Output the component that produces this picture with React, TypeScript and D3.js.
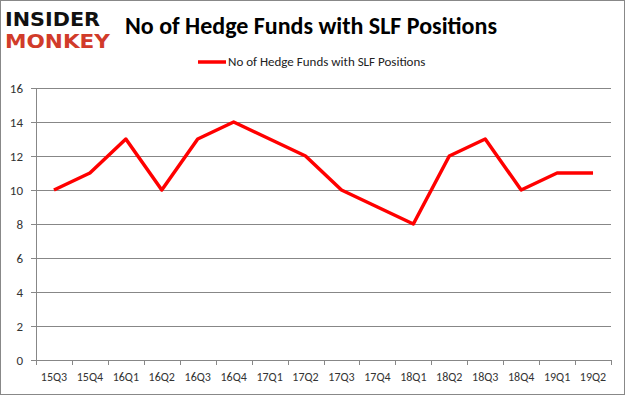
import { useEffect, useRef } from "react"
import * as d3 from "d3"

const quarters = [
  "15Q3", "15Q4", "16Q1", "16Q2", "16Q3", "16Q4", "17Q1", "17Q2",
  "17Q3", "17Q4", "18Q1", "18Q2", "18Q3", "18Q4", "19Q1", "19Q2",
]
const hedgeFundCounts = [10, 11, 13, 10, 13, 14, 13, 12, 10, 9, 8, 12, 13, 10, 11, 11]
const yTicks = [0, 2, 4, 6, 8, 10, 12, 14, 16]

const seriesName = "No of Hedge Funds with SLF Positions"
const chartTitle = "No of Hedge Funds with SLF Positions"

export default function App() {
  const svgRef = useRef<SVGSVGElement>(null)

  useEffect(() => {
    if (!svgRef.current) return
    const svg = d3.select(svgRef.current)
    svg.selectAll("*").remove()

    const width = 625
    const height = 395
    const margin = { top: 88, right: 14, bottom: 35, left: 36 }
    const innerWidth = width - margin.left - margin.right
    const innerHeight = height - margin.top - margin.bottom
    const font = "Calibri, Carlito, 'Open Sans', 'Noto Sans', sans-serif"

    // background + border
    svg.append("rect")
      .attr("x", 0.5).attr("y", 0.5)
      .attr("width", width - 1).attr("height", height - 1)
      .attr("fill", "#fff")
      .attr("stroke", "#888")

    const x = d3.scaleBand().domain(quarters).range([0, innerWidth])
    const y = d3.scaleLinear().domain([0, 16]).range([innerHeight, 0])

    const g = svg.append("g").attr("transform", `translate(${margin.left},${margin.top})`)

    // gridlines
    g.selectAll("line.grid")
      .data(yTicks)
      .join("line")
      .attr("class", "grid")
      .attr("x1", 0)
      .attr("x2", innerWidth)
      .attr("y1", (d) => Math.round(y(d)) + 0.5)
      .attr("y2", (d) => Math.round(y(d)) + 0.5)
      .attr("stroke", "#878787")
      .attr("stroke-width", 1)

    // y axis
    g.append("line")
      .attr("x1", 0.5).attr("x2", 0.5)
      .attr("y1", 0).attr("y2", innerHeight)
      .attr("stroke", "#878787")
    g.selectAll("line.ytick")
      .data(yTicks)
      .join("line")
      .attr("class", "ytick")
      .attr("x1", -5).attr("x2", 0)
      .attr("y1", (d) => Math.round(y(d)) + 0.5)
      .attr("y2", (d) => Math.round(y(d)) + 0.5)
      .attr("stroke", "#878787")
    g.selectAll("text.ylab")
      .data(yTicks)
      .join("text")
      .attr("class", "ylab")
      .attr("x", -13)
      .attr("y", (d) => y(d))
      .attr("dy", "0.35em")
      .attr("text-anchor", "end")
      .attr("font-family", font)
      .attr("font-size", 13)
      .attr("fill", "#333")
      .text((d) => d)

    // x axis ticks
    const edges = quarters.map((q) => x(q) as number).concat([innerWidth])
    g.selectAll("line.xtick")
      .data(edges)
      .join("line")
      .attr("class", "xtick")
      .attr("x1", (d) => Math.round(d) + 0.5)
      .attr("x2", (d) => Math.round(d) + 0.5)
      .attr("y1", innerHeight)
      .attr("y2", innerHeight + 5)
      .attr("stroke", "#878787")
    g.selectAll("text.xlab")
      .data(quarters)
      .join("text")
      .attr("class", "xlab")
      .attr("x", (d) => (x(d) as number) + x.bandwidth() / 2)
      .attr("y", innerHeight + 21)
      .attr("text-anchor", "middle")
      .attr("font-family", font)
      .attr("font-size", 12)
      .attr("fill", "#333")
      .text((d) => d)

    // line
    const line = d3.line<number>()
      .x((_, i) => (x(quarters[i]) as number) + x.bandwidth() / 2)
      .y((d) => y(d))
    g.append("path")
      .datum(hedgeFundCounts)
      .attr("fill", "none")
      .attr("stroke", "#ff0000")
      .attr("stroke-width", 3.5)
      .attr("stroke-linejoin", "round")
      .attr("d", line)

    // title
    svg.append("text")
      .attr("x", 311)
      .attr("y", 34)
      .attr("text-anchor", "middle")
      .attr("font-family", font)
      .attr("font-weight", "bold")
      .attr("font-size", 24)
      .attr("fill", "#000")
      .text(chartTitle)

    // legend
    svg.append("line")
      .attr("x1", 198).attr("x2", 226)
      .attr("y1", 62).attr("y2", 62)
      .attr("stroke", "#ff0000")
      .attr("stroke-width", 3.5)
    svg.append("text")
      .attr("x", 228)
      .attr("y", 66)
      .attr("font-family", font)
      .attr("font-size", 13)
      .attr("fill", "#222")
      .text(seriesName)

    // logo
    svg.append("text")
      .attr("x", 5)
      .attr("y", 26)
      .attr("font-family", "'DejaVu Sans', sans-serif")
      .attr("font-weight", "bold")
      .attr("font-size", 19)
      .attr("textLength", 95)
      .attr("lengthAdjust", "spacingAndGlyphs")
      .attr("fill", "#111")
      .text("INSIDER")
    svg.append("text")
      .attr("x", 5)
      .attr("y", 48)
      .attr("font-family", "'DejaVu Sans', sans-serif")
      .attr("font-weight", "bold")
      .attr("font-size", 19)
      .attr("textLength", 105)
      .attr("lengthAdjust", "spacingAndGlyphs")
      .attr("fill", "#d13b2a")
      .text("MONKEY")
  }, [])

  return (
    <svg
      ref={svgRef}
      width={625}
      height={395}
      style={{ position: "absolute", left: 0, top: 0 }}
    />
  )
}
